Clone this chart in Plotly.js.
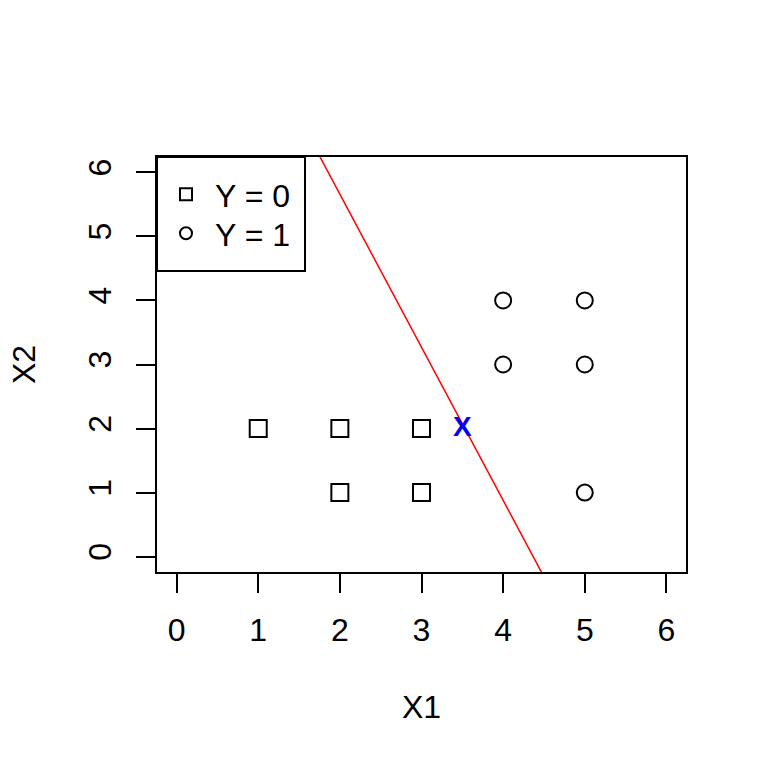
<!DOCTYPE html>
<html>
<head>
<meta charset="utf-8">
<script src="https://cdn.plot.ly/plotly-3.0.1.min.js"></script>
<style>html,body{margin:0;padding:0;background:#fff;}#chart{width:768px;height:768px;}</style>
</head>
<body>
<div id="chart"></div>
<script>
// Data
const x1_y0 = [1, 2, 3, 2, 3];
const x2_y0 = [2, 2, 2, 1, 1];
const x1_y1 = [4, 5, 4, 5, 5];
const x2_y1 = [4, 4, 3, 3, 1];
const newPointX1 = [3.5];
const newPointX2 = [2];
const newPointLabel = ["X"];
const boundaryIntercept = 10.44;
const boundarySlope = -2.39;
const tickValues = [0, 1, 2, 3, 4, 5, 6];
const legendLabels = ["Y = 0", "Y = 1"];

const axisRange = [-0.24, 6.24];
const lineX = axisRange.slice();
const lineY = lineX.map(v => boundaryIntercept + boundarySlope * v);

const FONT = "Liberation Sans, Arial, Helvetica, sans-serif";

const traces = [
  {
    x: x1_y0, y: x2_y0, type: "scatter", mode: "markers", name: legendLabels[0],
    legend: "legend",
    marker: {symbol: "square-open", size: 17, color: "black", line: {width: 2, color: "black"}}
  },
  {
    x: x1_y1, y: x2_y1, type: "scatter", mode: "markers", name: legendLabels[1],
    legend: "legend2",
    marker: {symbol: "circle-open", size: 16, color: "black", line: {width: 2, color: "black"}}
  },
  {
    x: lineX, y: lineY, type: "scatter", mode: "lines", showlegend: false,
    line: {color: "#FF0000", width: 1.5}, hoverinfo: "skip"
  },
  {
    x: newPointX1, y: newPointX2, type: "scatter", mode: "text", showlegend: false,
    text: newPointLabel, textposition: "middle center",
    textfont: {family: FONT, size: 28, color: "#0000FF", weight: "bold"}
  }
];

const axisCommon = {
  range: axisRange,
  tickmode: "array",
  tickvals: tickValues,
  ticktext: tickValues.map(String),
  ticks: "outside",
  ticklen: 19,
  tickwidth: 2,
  tickcolor: "black",
  showline: true,
  mirror: true,
  linewidth: 2,
  linecolor: "black",
  showgrid: false,
  zeroline: false,
  tickfont: {family: FONT, size: 32, color: "black"},
  automargin: false
};

const legendCommon = {
  xanchor: "left", yanchor: "top",
  borderwidth: 0, bgcolor: "rgba(0,0,0,0)",
  font: {family: FONT, size: 32, color: "black"},
  itemsizing: "constant",
  itemwidth: 48
};

const layout = {
  width: 768, height: 768,
  margin: {l: 157, r: 82, t: 157, b: 196, pad: 0},
  paper_bgcolor: "white", plot_bgcolor: "white",
  font: {family: FONT, size: 32, color: "black"},
  xaxis: Object.assign({}, axisCommon, {
    title: {text: "X1", font: {family: FONT, size: 32, color: "black"}, standoff: 48},
    ticklabelstandoff: 10
  }),
  yaxis: Object.assign({}, axisCommon, {
    tickangle: -90,
    title: {text: "X2", font: {family: FONT, size: 32, color: "black"}, standoff: 37},
    ticklabelstandoff: 12
  }),
  legend: Object.assign({}, legendCommon, {x: 0, y: 0.976}),
  legend2: Object.assign({}, legendCommon, {x: 0, y: 0.8819}),
  shapes: [{
    type: "rect", xref: "paper", yref: "paper",
    x0: 0, x1: 0.2798, y0: 0.7253, y1: 1,
    line: {color: "black", width: 2}, fillcolor: "rgba(0,0,0,0)", layer: "above"
  }],
  showlegend: true
};

Plotly.newPlot("chart", traces, layout, {staticPlot: true, displayModeBar: false});
</script>
</body>
</html>
